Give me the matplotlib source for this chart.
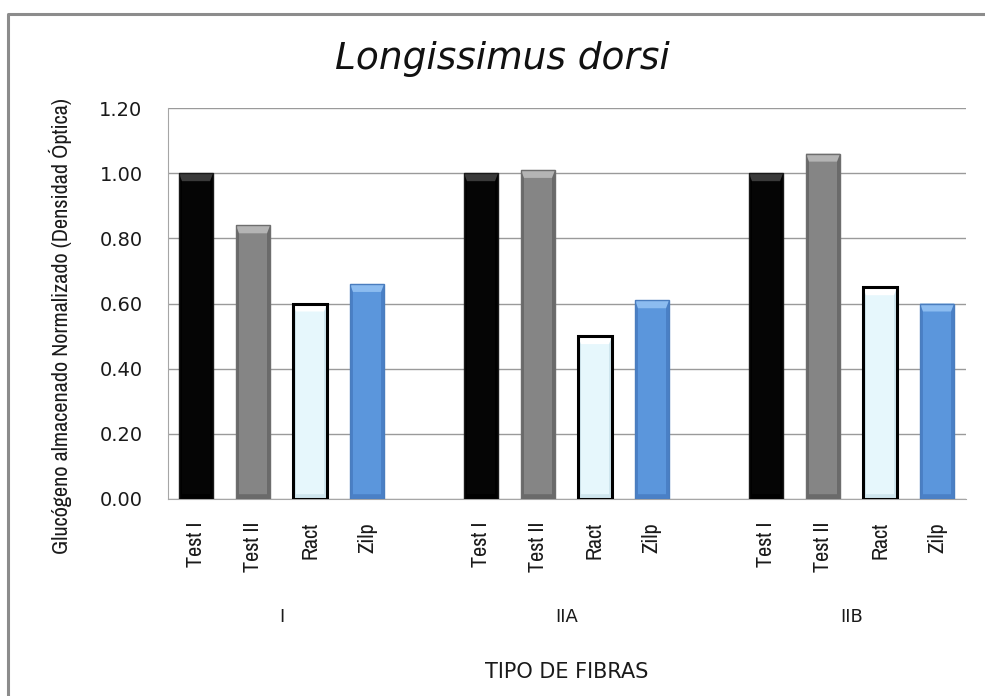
#!/usr/bin/env python3
"""Glucógeno almacenado normalizado en Longissimus dorsi por tipo de fibra."""

import matplotlib

matplotlib.use("Agg")
import matplotlib.pyplot as plt
from matplotlib.lines import Line2D
from matplotlib.patches import Polygon, Rectangle

fibras = ["I", "IIA", "IIB"]
tratamientos = ["Test I", "Test II", "Ract", "Zilp"]
test_i = [1.00, 1.00, 1.00]
test_ii = [0.84, 1.01, 1.06]
ract = [0.60, 0.50, 0.65]
zilp = [0.66, 0.61, 0.60]

series = [test_i, test_ii, ract, zilp]
fills = ["#050505", "#858585", "#E6F7FC", "#5B96DC"]
edges = ["#1a1a1a", "#6e6e6e", "#000000", "#4A7DBE"]
edge_widths = [1.0, 1.0, 2.2, 1.0]
highlights = ["#3a3a3a", "#b4b4b4", "#ffffff", "#8cbcf0"]
sides = ["#000000", "#6a6a6a", "#cfe6ee", "#4a80c6"]

NARROW = ["Archivo Narrow", "Asap Condensed", "DejaVu Sans"]
Y_MAX = 1.2


def add_bevel(ax, bars, light, dark):
    """Lighter trapezoid on top and darker side strips, like an embossed bar."""
    bevel_h = Y_MAX * 8 / 391
    for bar in bars:
        x0, w, h = bar.get_x(), bar.get_width(), bar.get_height()
        s = w * 0.09
        for sx in (x0, x0 + w - s):
            ax.add_patch(Rectangle((sx, 0), s, h, facecolor=dark,
                                   edgecolor="none", zorder=3.2))
        ax.add_patch(Polygon([(x0, h), (x0 + w, h), (x0 + w - s, h - bevel_h),
                              (x0 + s, h - bevel_h)], closed=True,
                             facecolor=light, edgecolor="none", zorder=3.3))
        ax.add_patch(Polygon([(x0, 0), (x0 + w, 0), (x0 + w - s, bevel_h * 0.6),
                              (x0 + s, bevel_h * 0.6)], closed=True,
                             facecolor=dark, edgecolor="none", zorder=3.3))


fig = plt.figure(figsize=(9.85, 6.96), dpi=100)
ax = fig.add_axes([167.5 / 985, 1 - 499 / 696, 798 / 985, 391 / 696])

# one empty slot between fibre groups
slot = len(tratamientos) + 1
positions = []
labels = []
for g, fibra in enumerate(fibras):
    for k, trat in enumerate(tratamientos):
        positions.append(g * slot + k)
        labels.append(trat)

for k, values in enumerate(series):
    xs = [g * slot + k for g in range(len(fibras))]
    bars = ax.bar(xs, values, width=0.6, color=fills[k], edgecolor="none",
                  zorder=3)
    add_bevel(ax, bars, highlights[k], sides[k])
    # outline drawn last so it sits above the bevel shading
    ax.bar(xs, values, width=0.6, fill=False, edgecolor=edges[k],
           linewidth=edge_widths[k], zorder=3.5)

ax.set_xlim(-0.5, len(fibras) * slot - 1.5)
ax.set_ylim(0, Y_MAX)
ax.set_yticks([0.0, 0.2, 0.4, 0.6, 0.8, 1.0, 1.2])
ax.set_yticklabels([f"{v:.2f}" for v in ax.get_yticks()], fontsize=14,
                   color="#1a1a1a")
ax.set_xticks(positions)
ax.set_xticklabels(labels, rotation=90, fontsize=16, family=NARROW,
                   color="#1a1a1a")
ax.tick_params(axis="x", length=0, pad=16.5)
ax.tick_params(axis="y", length=0, pad=18)

ax.grid(axis="y", color="#9a9a9a", linewidth=1.0, zorder=0)
for side in ["top", "right"]:
    ax.spines[side].set_visible(False)
ax.spines["left"].set_color("#a6a6a6")
ax.spines["bottom"].set_color("#a6a6a6")

# fibre-type labels under each group
for g, fibra in enumerate(fibras):
    center = g * slot + (len(tratamientos) - 1) / 2
    ax.text(center, -0.302, fibra, transform=ax.get_xaxis_transform(),
            ha="center", va="center", fontsize=13, color="#1a1a1a")
ax.text(0.5, -0.442, "TIPO DE FIBRAS", transform=ax.transAxes,
        ha="center", va="center", fontsize=15, color="#1a1a1a")

fig.text(60 / 985, 1 - 326 / 696,
         "Glucógeno almacenado Normalizado (Densidad Óptica)",
         rotation=90, ha="center", va="center", fontsize=16, family=NARROW,
         color="#1a1a1a")
fig.text(502 / 985, 1 - 69 / 696, "Longissimus dorsi", ha="center",
         va="baseline", fontsize=27, style="italic", color="#111111")

# chart frame (open on the right and bottom)
bx, by = 8 / 985, 1 - 14 / 696
fig.add_artist(Line2D([bx, bx, 1.0], [0.0, by, by], transform=fig.transFigure,
                      color="#8c8c8c", linewidth=2.2))

fig.savefig("out.png", dpi=100)
